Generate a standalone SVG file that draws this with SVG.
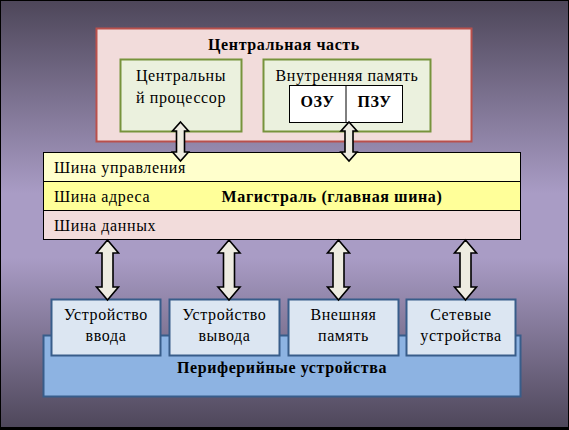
<svg xmlns="http://www.w3.org/2000/svg" width="569" height="430" viewBox="0 0 569 430">
<defs>
<linearGradient id="bg" x1="0" y1="0" x2="0" y2="1">
<stop offset="0" stop-color="#4D4659"/>
<stop offset="0.45" stop-color="#A99CC5"/>
<stop offset="0.6" stop-color="#A99CC5"/>
<stop offset="1" stop-color="#4D4659"/>
</linearGradient>
<style>
.b{font-weight:bold}
.m{text-anchor:middle}
.arr{fill:#EEECE1;stroke:#000;stroke-width:1.6;stroke-linejoin:miter}
.green{fill:#EBF1DE;stroke:#77933C;stroke-width:2}
.dev{fill:#DCE6F2;stroke:#385D8A;stroke-width:2}
</style>
</defs>
<rect x="0" y="0" width="569" height="430" fill="url(#bg)"/>
<rect x="0.5" y="0.5" width="568" height="427" fill="none" stroke="#000" stroke-width="1"/>
<rect x="0" y="427" width="569" height="3" fill="#000"/>
<g font-family="Liberation Serif, Times New Roman, serif" font-size="16" letter-spacing="0.6" fill="#000">
<g id="central">
<rect x="96.5" y="28.5" width="375" height="113" fill="#F2DCDB" stroke="#B9504C" stroke-width="2"/>
<text class="b m" x="284" y="50">Центральная часть</text>
</g>
<g id="cpu">
<rect x="120.5" y="59.5" width="121" height="72" class="green"/>
<text class="m" x="181" y="81">Центральны</text>
<text class="m" x="181" y="103">й процессор</text>
</g>
<g id="memory">
<rect x="263.5" y="59.5" width="167" height="72" class="green"/>
<text class="m" x="347" y="81">Внутренняя память</text>
<rect x="289.5" y="85.5" width="113" height="37" fill="#fff" stroke="#000" stroke-width="1"/>
<line x1="346" y1="85.5" x2="346" y2="122.5" stroke="#000" stroke-width="1"/>
<text class="b m" x="317.5" y="106.5">ОЗУ</text>
<text class="b m" x="374.5" y="106.5">ПЗУ</text>
</g>

<g id="bus">
<rect x="43.5" y="152.5" width="477" height="29" fill="#FFFFCC" stroke="#000" stroke-width="1"/>
<rect x="43.5" y="181.5" width="477" height="29" fill="#FFFF99" stroke="#000" stroke-width="1"/>
<rect x="43.5" y="210.5" width="477" height="29" fill="#F2DCDB" stroke="#000" stroke-width="1"/>
<text x="54" y="173">Шина управления</text>
<text x="54" y="202">Шина адреса</text>
<text class="b m" x="332" y="202">Магистраль (главная шина)</text>
<text x="54" y="231">Шина данных</text>
</g>

<g id="peripheral">
<rect x="43.5" y="335.5" width="477" height="61" fill="#8DB3E2" stroke="#385D8A" stroke-width="2"/>
<text class="b m" x="282" y="373">Периферийные устройства</text>
</g>
<g id="input">
<rect x="51.5" y="299.5" width="109" height="56" class="dev"/>
<text class="m" x="106" y="320">Устройство</text>
<text class="m" x="106" y="341">ввода</text>
</g>
<g id="output">
<rect x="169.5" y="299.5" width="110" height="56" class="dev"/>
<text class="m" x="224.5" y="320">Устройство</text>
<text class="m" x="224.5" y="341">вывода</text>
</g>
<g id="extmem">
<rect x="288.5" y="299.5" width="110" height="56" class="dev"/>
<text class="m" x="343.5" y="320">Внешняя</text>
<text class="m" x="343.5" y="341">память</text>
</g>
<g id="net">
<rect x="406.5" y="299.5" width="109" height="56" class="dev"/>
<text class="m" x="461" y="320">Сетевые</text>
<text class="m" x="461" y="341">устройства</text>
</g>
</g>
<g id="connectors">
<path class="arr" d="M180.5,122 L188.5,131 L184.5,131 L184.5,152 L188.5,152 L180.5,161 L172.5,152 L176.5,152 L176.5,131 L172.5,131 Z"/>
<path class="arr" d="M349,122 L357,131 L353,131 L353,152 L357,152 L349,161 L341,152 L345,152 L345,131 L341,131 Z"/>
<path class="arr" d="M107.5,240 L118.5,253 L113,253 L113,287 L118.5,287 L107.5,300 L96.5,287 L102,287 L102,253 L96.5,253 Z"/>
<path class="arr" d="M229,240 L240,253 L234.5,253 L234.5,287 L240,287 L229,300 L218,287 L223.5,287 L223.5,253 L218,253 Z"/>
<path class="arr" d="M338.5,240 L349.5,253 L344,253 L344,287 L349.5,287 L338.5,300 L327.5,287 L333,287 L333,253 L327.5,253 Z"/>
<path class="arr" d="M465.5,240 L476.5,253 L471,253 L471,287 L476.5,287 L465.5,300 L454.5,287 L460,287 L460,253 L454.5,253 Z"/>
</g>
</svg>
